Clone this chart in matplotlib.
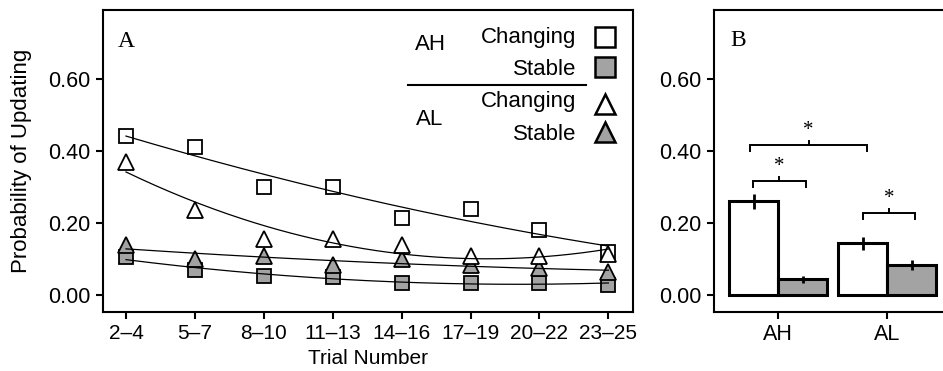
"""Probability of updating across trial bins (A) and overall by condition (B)."""

import numpy as np
import matplotlib
matplotlib.use("Agg")
import matplotlib.pyplot as plt

plt.rcParams["font.family"] = ["Liberation Sans", "DejaVu Sans"]

# Panel A: per-bin probability of updating
trial_bins = ["2–4", "5–7", "8–10", "11–13", "14–16", "17–19", "20–22", "23–25"]
ah_changing = [0.44, 0.41, 0.30, 0.30, 0.215, 0.24, 0.18, 0.12]
ah_stable = [0.105, 0.07, 0.055, 0.05, 0.035, 0.035, 0.035, 0.03]
al_changing = [0.37, 0.235, 0.155, 0.155, 0.14, 0.11, 0.11, 0.115]
al_stable = [0.14, 0.10, 0.11, 0.085, 0.10, 0.085, 0.075, 0.065]

# Panel B: overall means with standard errors
groups = ["AH", "AL"]
changing_means = [0.26, 0.145]
changing_err = [0.022, 0.018]
stable_means = [0.045, 0.085]
stable_err = [0.01, 0.014]

GRAY = "#a3a3a3"
yticks = [0.0, 0.2, 0.4, 0.6]
ytick_labels = ["0.00", "0.20", "0.40", "0.60"]


def style_axes(ax):
    for s in ax.spines.values():
        s.set_linewidth(1.5)
    ax.tick_params(width=1.5, length=5, pad=4, labelsize=15.5)
    ax.set_ylim(-0.045, 0.79)
    ax.set_yticks(yticks)
    ax.set_yticklabels(ytick_labels)


fig = plt.figure(figsize=(9.43, 3.71), dpi=100)
ax_a = fig.add_axes([0.1095, 0.16, 0.562, 0.813])
# panel B runs off the right edge of the figure
ax_b = fig.add_axes([0.757, 0.16, 0.2531, 0.813])

# ---- Panel A ----
style_axes(ax_a)
x = np.arange(len(trial_bins))
xs = np.linspace(x[0], x[-1], 200)

series = [
    (ah_changing, "s", "white", 9.5),
    (ah_stable, "s", GRAY, 9.5),
    (al_stable, "^", GRAY, 11),
    (al_changing, "^", "white", 11),
]
for vals, marker, fc, ms in series:
    ax_a.plot(x, vals, marker, ms=ms, mfc=fc, mec="black", mew=1.3,
              linestyle="none", zorder=3)
    # quadratic trend through each series
    coef = np.polyfit(x, vals, 2)
    ax_a.plot(xs, np.polyval(coef, xs), color="black", lw=0.9, zorder=4)

ax_a.set_xlim(-0.33, 7.36)
ax_a.set_xticks(x)
ax_a.set_xticklabels(trial_bins, fontsize=15)
ax_a.set_xlabel("Trial Number", fontsize=15, labelpad=4)
ax_a.set_ylabel("Probability of Updating", fontsize=16, labelpad=12)
ax_a.text(0.028, 0.877, "A", transform=ax_a.transAxes, fontsize=17,
          family="Liberation Serif")

# legend built by hand: group labels, condition names and marker keys
tr = ax_a.transAxes
leg_font = 16
ax_a.text(0.892, 0.891, "Changing", transform=tr, ha="right", va="baseline", fontsize=leg_font)
ax_a.text(0.892, 0.785, "Stable", transform=tr, ha="right", va="baseline", fontsize=leg_font)
ax_a.text(0.892, 0.679, "Changing", transform=tr, ha="right", va="baseline", fontsize=leg_font)
ax_a.text(0.892, 0.569, "Stable", transform=tr, ha="right", va="baseline", fontsize=leg_font)
ax_a.text(0.617, 0.867, "AH", transform=tr, ha="center", va="baseline", fontsize=leg_font)
ax_a.text(0.615, 0.619, "AL", transform=tr, ha="center", va="baseline", fontsize=leg_font)
ax_a.plot([0.575, 0.911], [0.751, 0.751], transform=tr, color="black", lw=1.5,
          clip_on=False)
legend_keys = [("s", "white", 0.911), ("s", GRAY, 0.811),
               ("^", "white", 0.688), ("^", GRAY, 0.596)]
for marker, fc, ky in legend_keys:
    ax_a.plot([0.947], [ky], marker, transform=tr, ms=15, mfc=fc, mec="black",
              mew=1.8, clip_on=False)

# ---- Panel B ----
style_axes(ax_b)
ax_b.spines["right"].set_visible(False)
gx = np.arange(len(groups))
w = 0.45
ax_b.bar(gx - w / 2, changing_means, w, color="white", edgecolor="black",
         linewidth=2.2, zorder=2)
ax_b.bar(gx + w / 2, stable_means, w, color=GRAY, edgecolor="black",
         linewidth=2.2, zorder=2)
ax_b.errorbar(gx - w / 2, changing_means, yerr=changing_err, fmt="none",
              ecolor="black", elinewidth=2, capsize=0, zorder=3)
ax_b.errorbar(gx + w / 2, stable_means, yerr=stable_err, fmt="none",
              ecolor="black", elinewidth=2, capsize=0, zorder=3)
ax_b.set_xlim(-0.59, 1.6)
ax_b.set_xticks(gx)
ax_b.set_xticklabels(groups, fontsize=15.5)
ax_b.text(-0.44, 0.69, "B", fontsize=17, family="Liberation Serif", va="baseline")


def bracket(ax, x0, x1, y, drop=0.016, notch=0.012):
    xm = (x0 + x1) / 2
    ax.plot([x0, x0, x1, x1], [y - drop, y, y, y - drop], color="black", lw=1.4,
            solid_joinstyle="miter")
    ax.plot([xm, xm], [y, y + notch], color="black", lw=1.4)
    ax.text(xm, y + notch + 0.003, "*", ha="center", va="bottom", fontsize=15,
            family="Liberation Serif")


bracket(ax_b, -0.257, 0.817, 0.415)
bracket(ax_b, -0.232, 0.254, 0.316)
bracket(ax_b, 0.777, 1.26, 0.228)

fig.savefig("out.png", dpi=100)
plt.close(fig)
